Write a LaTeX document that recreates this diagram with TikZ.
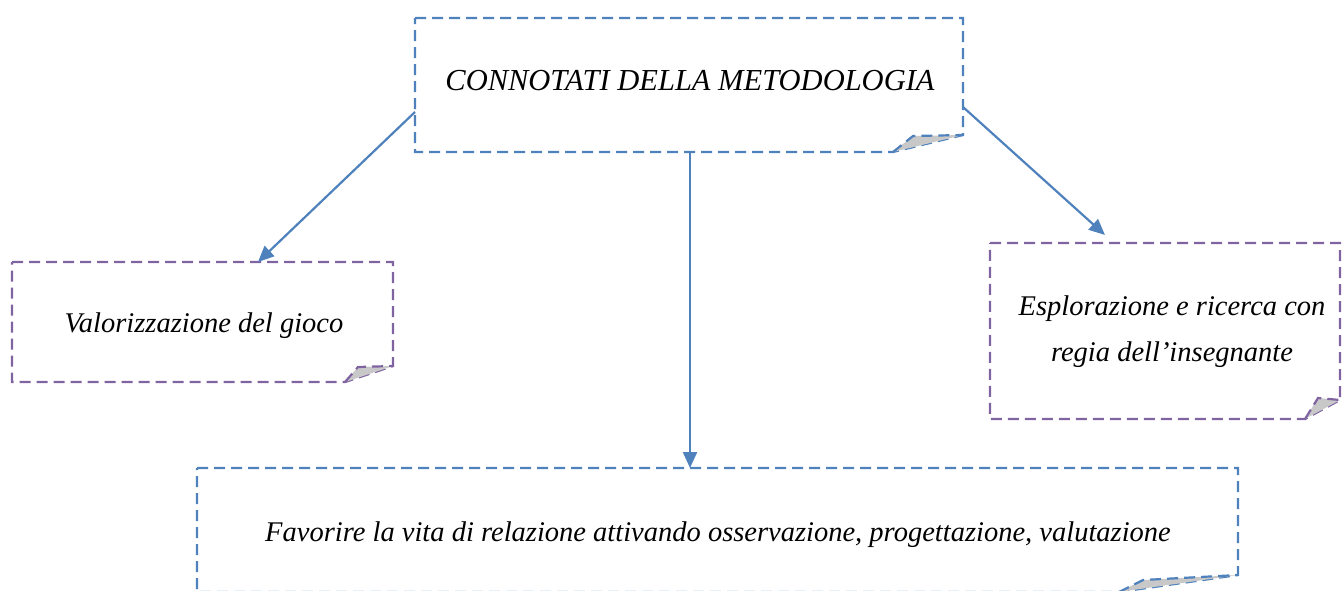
\documentclass[tikz,border=0pt]{standalone}
\usepackage{fontspec}
\setmainfont{Liberation Serif}
\usetikzlibrary{arrows.meta}
\definecolor{bblue}{RGB}{79,129,189}
\definecolor{bpurple}{RGB}{128,100,162}
\definecolor{foldgray}{RGB}{200,200,200}
\tikzset{
  area/.style={inner sep=0pt, outer sep=0pt},
  outline/.style={line width=2.2pt, dash pattern=on 11pt off 6pt},
  label/.style={font=\fontsize{28.5}{46}\selectfont\itshape, align=center, inner sep=0pt},
  capslabel/.style={font=\fontsize{30.5}{36}\selectfont\itshape, align=center, inner sep=0pt},
  conn/.style={draw=bblue, line width=2.2pt, -{Triangle[length=16pt,width=14pt]}},
}
% #1 node, #2 colour, #3 right-side rise, #4 bottom cut, #5 apex x, #6 apex y
\newcommand{\foldframe}[6]{%
  \draw[outline, draw=#2]
    (#1.north west) -- (#1.north east)
    -- ([yshift=#3]#1.south east)
    -- ([xshift=#4]#1.south east)
    -- (#1.south west) -- cycle;
  \fill[foldgray]
    ([xshift=#4]#1.south east) -- ([xshift=#5,yshift=#6]#1.south east) -- ([yshift=#3]#1.south east) -- cycle;
  \draw[outline, draw=#2]
    ([xshift=#4]#1.south east) -- ([xshift=#5,yshift=#6]#1.south east) -- ([yshift=#3]#1.south east);
}
\begin{document}
\begin{tikzpicture}[x=1pt,y=-1pt]
\useasboundingbox (0,0) rectangle (1343,590);
% box areas
\node[area, minimum width=548pt, minimum height=134pt] (top) at (689,85) {};
\node[area, minimum width=381pt, minimum height=120pt] (left) at (202.5,322) {};
\node[area, minimum width=350pt, minimum height=176pt] (right) at (1165,331) {};
\node[area, minimum width=1041pt, minimum height=124pt] (bottom) at (717.5,530) {};
\foldframe{top}{bblue}{17pt}{-70pt}{-50pt}{16pt}
\foldframe{left}{bpurple}{16pt}{-48pt}{-35pt}{15pt}
\foldframe{right}{bpurple}{19pt}{-35pt}{-22pt}{21pt}
\foldframe{bottom}{bblue}{17pt}{-119pt}{-95pt}{12pt}
% texts
\node[capslabel] (t1) at (690,81) {CONNOTATI DELLA METODOLOGIA};
\node[label] (t2) at (204,326) {Valorizzazione del gioco};
\node[label] (t3) at (1172,332) {Esplorazione e ricerca con\\regia dell’insegnante};
\node[label] (t4) at (718,535) {Favorire la vita di relazione attivando osservazione, progettazione, valutazione};
% connectors
\draw[conn] ([yshift=-94pt]top.north west) -- ([xshift=246pt]left.north west);
\draw[conn] (top.south -| 690,0) -- (bottom.north -| 690,0);
\draw[conn] ([yshift=-89pt]top.north east) -- ([xshift=115pt,yshift=8pt]right.north west);
\end{tikzpicture}
\end{document}
